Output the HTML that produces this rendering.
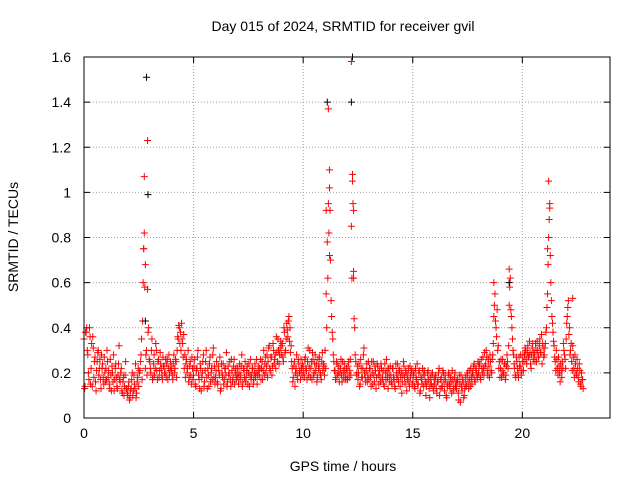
<!DOCTYPE html>
<html><head><meta charset="utf-8"><style>
body{margin:0;background:#fff;}
svg text{font-family:"Liberation Sans",sans-serif;font-size:14px;fill:#000;}
</style></head><body>
<svg id="chart" width="640" height="480">
<text x="343" y="31" text-anchor="middle">Day 015 of 2024, SRMTID for receiver gvil</text>
<text x="343" y="471" text-anchor="middle">GPS time / hours</text>
<text transform="translate(18,237) rotate(-90)" text-anchor="middle">SRMTID / TECUs</text>
<g id="grid"></g><g id="marks"></g>
<rect x="84" y="57" width="526" height="361" fill="none" stroke="#000"/>
</svg>
<script>
const xTicks=[0,5,10,15,20];
const yTicks=[0,0.2,0.4,0.6,0.8,1,1.2,1.4,1.6];
const yTickLabels=["0","0.2","0.4","0.6","0.8","1","1.2","1.4","1.6"];
const mainValues=[
.35,.14,.38,.30,.20,.40,.15,.33,.36,.18,.27,.12,.25,.30,.22,.17,.28,.24,.15,.20,
.22,.30,.18,.15,.26,.12,.20,.28,.17,.24,.14,.19,.32,.16,.22,.11,.18,.14,.25,.13,
.10,.16,.09,.13,.20,.12,.15,.24,.11,.18,.14,.21,.28,.17,.60,.82,.22,.30,.57,.40,
.25,.20,.35,.18,.28,.22,.30,.17,.26,.21,.24,.19,.27,.23,.20,.18,.26,.22,.19,.25,
.21,.17,.28,.22,.25,.30,.35,.40,.38,.42,.33,.37,.28,.24,.20,.30,.18,.25,.15,.22,
.19,.26,.14,.22,.30,.17,.24,.12,.20,.28,.16,.25,.18,.22,.14,.27,.20,.17,.31,.23,
.18,.25,.15,.21,.27,.13,.20,.24,.17,.22,.29,.16,.19,.25,.14,.21,.18,.26,.20,.17,
.22,.15,.24,.19,.28,.16,.21,.25,.18,.23,.20,.14,.26,.19,.22,.17,.24,.20,.15,.21,
.19,.26,.22,.17,.30,.24,.20,.28,.25,.32,.21,.27,.23,.30,.26,.22,.29,.35,.24,.31,
.28,.33,.25,.38,.30,.42,.36,.45,.40,.32,.22,.18,.25,.20,.28,.17,.24,.21,.26,.19,
.23,.18,.27,.21,.25,.19,.30,.22,.17,.26,.20,.28,.24,.18,.22,.27,.19,.25,.21,.23,
.30,.55,.78,.95,1.02,.70,.45,.35,.25,.21,.18,.24,.20,.16,.22,.19,.25,.18,.21,.17,
.20,.23,.18,.26,.85,1.05,.62,.40,.25,.20,.17,.24,.15,.22,.18,.28,.20,.16,.24,.19,
.17,.22,.14,.20,.25,.16,.21,.18,.23,.15,.19,.24,.17,.21,.14,.20,.26,.18,.22,.16,
.19,.15,.22,.17,.13,.20,.24,.16,.21,.18,.11,.19,.23,.15,.20,.17,.22,.14,.18,.21,
.16,.20,.13,.18,.24,.15,.21,.12,.17,.22,.14,.19,.10,.16,.21,.13,.18,.15,.20,.12,
.15,.19,.11,.16,.22,.13,.18,.14,.20,.12,.17,.09,.15,.19,.13,.16,.21,.12,.18,.14,
.13,.17,.08,.15,.19,.12,.16,.10,.18,.14,.20,.13,.17,.22,.15,.19,.24,.16,.21,.18,
.20,.24,.17,.22,.27,.19,.23,.30,.21,.26,.18,.25,.20,.28,.45,.55,.40,.48,.32,.25,
.22,.18,.26,.20,.24,.19,.28,.22,.50,.62,.45,.35,.28,.22,.18,.25,.20,.27,.23,.19,
.25,.21,.28,.30,.24,.32,.27,.29,.22,.31,.26,.28,.33,.25,.30,.27,.35,.29,.24,.31,
.28,.33,.40,.55,.80,.95,.60,.45,.38,.32,.25,.30,.22,.27,.20,.24,.18,.22,.30,.26,
.35,.45,.52,.40,.30,.25,.32,.22,.28,.20,.26,.18,.24,.15,.20,.17];
const secondValues=[
.13,.38,.40,.28,.17,.36,.22,.14,.31,.25,.16,.21,.29,.19,.26,.13,.22,.18,.27,.16,
.17,.25,.21,.13,.19,.23,.16,.12,.22,.18,.13,.24,.17,.20,.12,.16,.10,.19,.13,.11,
.14,.08,.12,.17,.10,.19,.13,.09,.16,.22,.20,.25,.35,.43,.75,.58,.28,.19,.38,.26,
.22,.30,.17,.24,.19,.33,.21,.25,.18,.29,.22,.17,.23,.20,.26,.24,.17,.28,.21,.23,
.19,.24,.20,.26,.18,.36,.41,.33,.30,.35,.27,.22,.18,.26,.22,.16,.23,.19,.27,.17,
.23,.15,.21,.27,.19,.13,.22,.18,.25,.14,.21,.30,.13,.19,.24,.16,.22,.28,.18,.15,
.21,.16,.23,.19,.12,.24,.18,.15,.22,.19,.14,.23,.20,.17,.26,.16,.23,.15,.22,.19,
.18,.20,.17,.23,.14,.22,.18,.16,.21,.15,.24,.19,.17,.22,.15,.20,.18,.26,.19,.23,
.22,.17,.25,.21,.19,.27,.23,.18,.31,.22,.27,.19,.33,.24,.28,.36,.25,.30,.28,.34,
.32,.27,.40,.29,.35,.39,.43,.34,.29,.25,.16,.23,.14,.22,.19,.26,.20,.17,.22,.24,
.20,.26,.22,.17,.31,.23,.18,.25,.29,.19,.24,.21,.16,.26,.23,.20,.17,.29,.24,.19,
.22,.40,.62,.82,.92,.52,.38,.28,.21,.17,.25,.19,.23,.20,.26,.16,.21,.24,.18,.22,
.17,.25,.21,.19,.62,.95,.44,.28,.19,.23,.20,.14,.26,.18,.22,.31,.18,.21,.16,.25,
.22,.18,.25,.15,.19,.23,.13,.24,.19,.21,.16,.22,.18,.15,.24,.17,.21,.13,.19,.23,
.16,.22,.18,.14,.24,.17,.19,.22,.14,.20,.16,.25,.18,.21,.12,.19,.16,.23,.20,.15,
.19,.14,.22,.17,.15,.20,.11,.18,.15,.19,.21,.16,.14,.20,.17,.09,.15,.19,.14,.17,
.18,.13,.16,.20,.10,.17,.14,.21,.16,.19,.10,.14,.20,.15,.18,.11,.17,.14,.20,.16,
.16,.11,.19,.07,.14,.17,.09,.13,.15,.19,.16,.21,.14,.18,.20,.23,.17,.22,.19,.25,
.23,.18,.26,.20,.22,.29,.24,.27,.19,.23,.28,.21,.26,.33,.50,.43,.36,.30,.22,.18,
.26,.21,.19,.24,.17,.23,.25,.32,.58,.48,.40,.30,.24,.19,.27,.22,.18,.23,.28,.21,
.28,.25,.31,.26,.29,.27,.34,.24,.28,.33,.29,.25,.30,.34,.27,.32,.29,.37,.33,.27,
.31,.38,.49,.68,.88,.72,.52,.42,.34,.27,.21,.26,.19,.23,.16,.21,.25,.33,.28,.22,
.42,.49,.37,.28,.33,.21,.27,.18,.24,.19,.22,.16,.21,.14,.17,.13];
const mainStep=0.05;
const spikeX=[2.75,2.9,2.72,2.8,11.15,11.2,11.05,11.2,12.2,12.25,12.3,12.3,18.7,19.4,21.2,21.25,21.15,22.3];
const spikeY=[1.07,1.23,0.75,0.68,1.37,1.1,0.92,0.72,1.58,1.08,0.92,0.65,0.6,0.66,1.05,0.93,0.75,0.53];
const blackX=[2.85,2.92,11.1,12.2,12.25,2.8,19.4];
const blackY=[1.51,0.99,1.40,1.40,1.6,0.43,0.6];
const X0=84,X1=610,Y0=418,Y1=57,XMAX=24,YMAX=1.6;
const xs=v=>X0+v/XMAX*(X1-X0), ys=v=>Y0-v/YMAX*(Y0-Y1);
const NS="http://www.w3.org/2000/svg";
const grid=document.getElementById('grid'), marks=document.getElementById('marks');
function mk(tag,attrs,parent){const e=document.createElementNS(NS,tag);for(const k in attrs)e.setAttribute(k,attrs[k]);parent.appendChild(e);return e;}
xTicks.forEach(t=>{const x=xs(t);
 if(t>0){const g=mk('line',{x1:x,x2:x,y1:Y0,y2:Y1,stroke:'#a0a0a0','stroke-dasharray':'1,2'},grid);
 
 }
 mk('line',{x1:x,x2:x,y1:Y0,y2:Y0-6,stroke:'#000'},grid);mk('line',{x1:x,x2:x,y1:Y1,y2:Y1+6,stroke:'#000'},grid);
 const l=mk('text',{x:x,y:Y0+20,'text-anchor':'middle'},grid);l.textContent=t;
 
 });
yTicks.forEach((t,i)=>{const y=ys(t);
 if(t>0&&t<YMAX){const g=mk('line',{x1:X0,x2:X1,y1:y,y2:y,stroke:'#a0a0a0','stroke-dasharray':'1,2'},grid);
 
 }
 mk('line',{x1:X0,x2:X0+6,y1:y,y2:y,stroke:'#000'},grid);mk('line',{x1:X1,x2:X1-6,y1:y,y2:y,stroke:'#000'},grid);
 const l=mk('text',{x:X0-13,y:y+5,'text-anchor':'end'},grid);l.textContent=yTickLabels[i];
 
 });
function cross(x,y,color,name){const p=mk('path',{d:`M${x-3.5},${y}h7M${x},${y-3.5}v7`,stroke:color,'stroke-width':1,fill:'none'},marks);
 
 }
mainValues.forEach((v,i)=>cross(xs(i*mainStep),ys(v),'#f00','data-point'));
secondValues.forEach((v,i)=>cross(xs(i*mainStep+mainStep/2),ys(v),'#f00','data-point-b'));
spikeX.forEach((x,i)=>cross(xs(x),ys(spikeY[i]),'#f00','spike-point'));
blackX.forEach((x,i)=>cross(xs(x),ys(blackY[i]),'#000','black-point'));
</script>
</body></html>
